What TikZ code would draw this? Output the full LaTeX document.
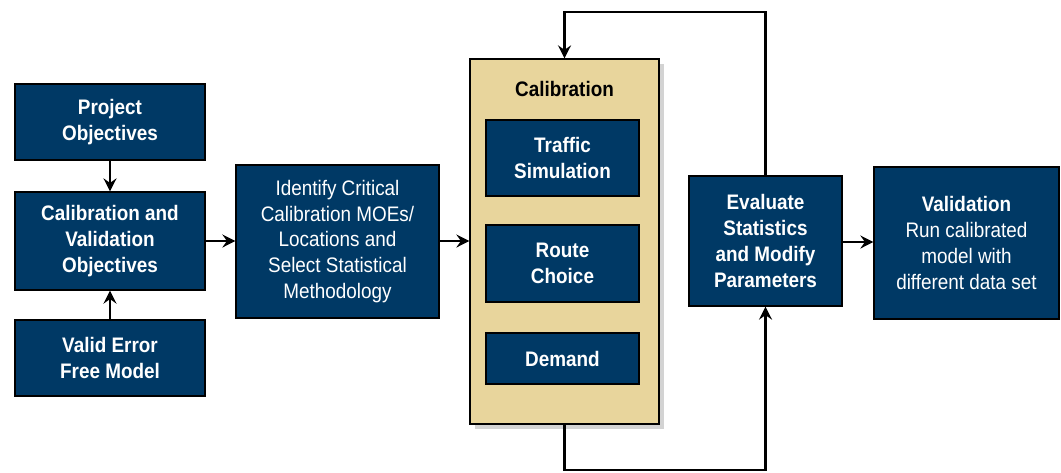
\documentclass[tikz,border=0pt]{standalone}
\usepackage{fontspec}
\setmainfont{Liberation Sans}[FakeStretch=0.9]
\usetikzlibrary{arrows.meta,shadows}
\definecolor{navy}{RGB}{0,57,101}
\definecolor{tan}{RGB}{232,213,156}
\tikzset{
  bluebox/.style={draw=black, line width=1.2pt, fill=navy, text=white, inner sep=0pt, align=center,
    font=\fontsize{21}{25.7}\selectfont\bfseries},
  plain/.style={font=\fontsize{21}{25.7}\selectfont\mdseries},
  arr/.style={line width=2.3pt, -{Stealth[length=13pt,width=13pt,inset=4.5pt]}}
}
\begin{document}
\begin{tikzpicture}[x=1pt,y=-1pt]
\useasboundingbox (0,0) rectangle (1061,472);
\node[bluebox, minimum width=190, minimum height=76] (proj) at (110,122) {Project\\Objectives};
\node[bluebox, minimum width=190, minimum height=98] (cvo) at (110,241) {Calibration and\\Validation\\Objectives};
\node[bluebox, minimum width=190, minimum height=76] (valid) at (110,358) {Valid Error\\Free Model};
\node[bluebox, plain, minimum width=203, minimum height=153] (ident) at (337.5,241.5) {Identify Critical\\Calibration MOEs/\\Locations and\\Select Statistical\\Methodology};
\node[draw=black, line width=1.2pt, fill=tan, minimum width=189, minimum height=365, inner sep=0pt,
  drop shadow={shadow xshift=5pt, shadow yshift=-5pt, opacity=0.35}] (calib) at (564.5,241.5) {};
\node[font=\fontsize{21}{25.7}\selectfont\bfseries, text=black] (calt) at (564.5,89) {Calibration};
\node[bluebox, minimum width=153, minimum height=76] (traffic) at (562.5,158) {Traffic\\Simulation};
\node[bluebox, minimum width=153, minimum height=77] (route) at (562.5,263.5) {Route\\Choice};
\node[bluebox, minimum width=153, minimum height=51] (demand) at (562.5,358.5) {Demand};
\node[bluebox, minimum width=153, minimum height=130] (eval) at (765.5,241) {Evaluate\\Statistics\\and Modify\\Parameters};
\node[bluebox, minimum width=185, minimum height=152] (valn) at (966.5,243) {Validation\\{\mdseries Run calibrated}\\{\mdseries model with}\\{\mdseries different data set}};
\coordinate (t) at (665,12);
\coordinate (b) at (665,470);
\draw[arr] (proj) -- (cvo);
\draw[arr] (valid) -- (cvo);
\draw[arr] (cvo.east |- 0,241) -- (ident.west |- 0,241);
\draw[arr] (ident.east |- 0,241) -- (calib.west |- 0,241);
\draw[arr] (eval.east |- 0,242) -- (valn.west |- 0,242);
\draw[arr] (eval.north) |- (t) -| (calib.north);
\draw[arr] (calib.south) |- (b) -| (eval.south);
\end{tikzpicture}
\end{document}
